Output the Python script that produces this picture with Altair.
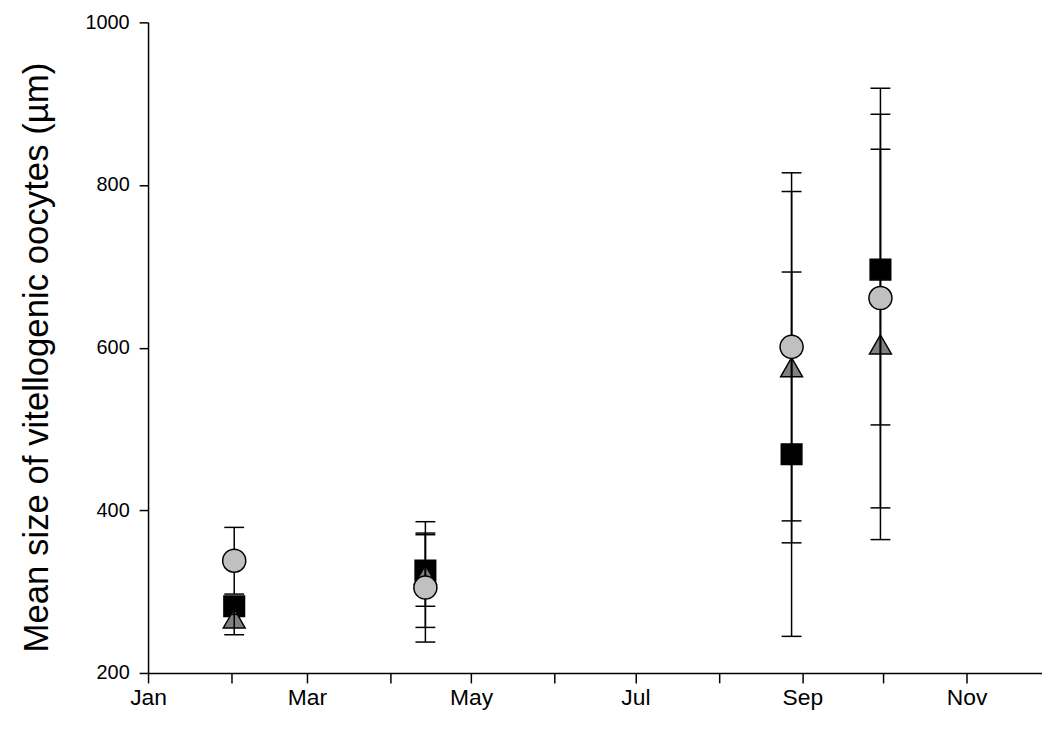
import altair as alt
import pandas as pd

# Sampling dates (one cluster per date)
dates = ["2001-02-02", "2001-04-14", "2001-08-28", "2001-09-30"]

# Series values (mean ± error)
square_mean = [282, 326, 469, 696]
square_err = [10, 44, 224, 191]
triangle_mean = [267, 321, 576, 604]
triangle_err = [20, 65, 216, 240]
circle_mean = [338, 305, 601, 661]
circle_err = [41, 67, 214, 258]

series_names = ["square", "triangle", "circle"]
series_shapes = ["square", "triangle-up", "circle"]
series_fills = ["#000000", "#808080", "#c0c0c0"]
series_sizes = [430, 540, 420]

y_ticks = [200, 400, 600, 800, 1000]

rows = []
for name, means, errs in [("square", square_mean, square_err),
                          ("triangle", triangle_mean, triangle_err),
                          ("circle", circle_mean, circle_err)]:
    for d, m, e in zip(dates, means, errs):
        rows.append({"date": d, "series": name, "mean": m, "lo": m - e, "hi": m + e})
df = pd.DataFrame(rows)

FONT = "Liberation Sans"

x_enc = alt.X(
    "date:T",
    scale=alt.Scale(type="utc",
                    domain=[alt.DateTime(year=2001, month=1, date=1, utc=True),
                            alt.DateTime(year=2001, month=11, date=29, utc=True)]),
    axis=alt.Axis(
        values=[alt.DateTime(year=2001, month=m, date=1, utc=True) for m in range(1, 12)],
        labelExpr="utcmonth(datum.value) % 2 == 0 ? utcFormat(datum.value, '%b') : ''",
        title=None, grid=False, domainColor="black", domainWidth=1.5,
        tickColor="black", tickWidth=1.5, tickSize=10, labelPadding=4,
        labelFont=FONT, labelFontSize=23, labelColor="black",
        labelOverlap=False, labelFlush=False,
    ),
)

y_title = "Mean size of vitellogenic oocytes (\u00b5m)"

def y_enc(field):
    return alt.Y(
        field,
        scale=alt.Scale(domain=[200, 1000], nice=False, zero=False),
        axis=alt.Axis(
            values=y_ticks, format="d", title=y_title, grid=False,
            domainColor="black", domainWidth=1.5,
            tickColor="black", tickWidth=1.5, tickSize=9, labelPadding=10,
            labelFont=FONT, labelFontSize=20, labelColor="black",
            titleFont=FONT, titleFontSize=35, titleFontWeight="normal",
            titleColor="black", titlePadding=31, titleY=337,
        ),
    )

shape_enc = alt.Shape("series:N", scale=alt.Scale(domain=series_names, range=series_shapes), legend=None)
fill_enc = alt.Fill("series:N", scale=alt.Scale(domain=series_names, range=series_fills), legend=None)
size_enc = alt.Size("series:N", scale=alt.Scale(domain=series_names, range=series_sizes), legend=None)

base = alt.Chart(df)

pts_back = base.transform_filter("datum.series != 'circle'").mark_point(
    filled=True, stroke="black", strokeWidth=1.5, fillOpacity=1, strokeOpacity=1
).encode(x=x_enc, y=y_enc("mean:Q"), shape=shape_enc, fill=fill_enc, size=size_enc)

rules = base.mark_rule(color="black", strokeWidth=1.5).encode(
    x=x_enc, y=y_enc("lo:Q"), y2="hi:Q"
)

caps_lo = base.mark_tick(orient="horizontal", color="black", size=20, thickness=1.5, opacity=1).encode(
    x=x_enc, y=y_enc("lo:Q")
)
caps_hi = base.mark_tick(orient="horizontal", color="black", size=20, thickness=1.5, opacity=1).encode(
    x=x_enc, y=y_enc("hi:Q")
)

pts_front = base.transform_filter("datum.series == 'circle'").mark_point(
    filled=True, stroke="black", strokeWidth=1.5, fillOpacity=1, strokeOpacity=1
).encode(x=x_enc, y=y_enc("mean:Q"), shape=shape_enc, fill=fill_enc, size=size_enc)

chart = alt.layer(pts_back, rules, caps_lo, caps_hi, pts_front).properties(
    width=900, height=655,
    autosize=alt.AutoSizeParams(type="none"),
    padding={"left": 141, "top": 12, "right": 0, "bottom": 60},
).configure_view(stroke=None).resolve_scale(shape="shared", fill="shared", size="shared")

chart.save("out.html", embed_options={"renderer": "svg", "actions": False})
